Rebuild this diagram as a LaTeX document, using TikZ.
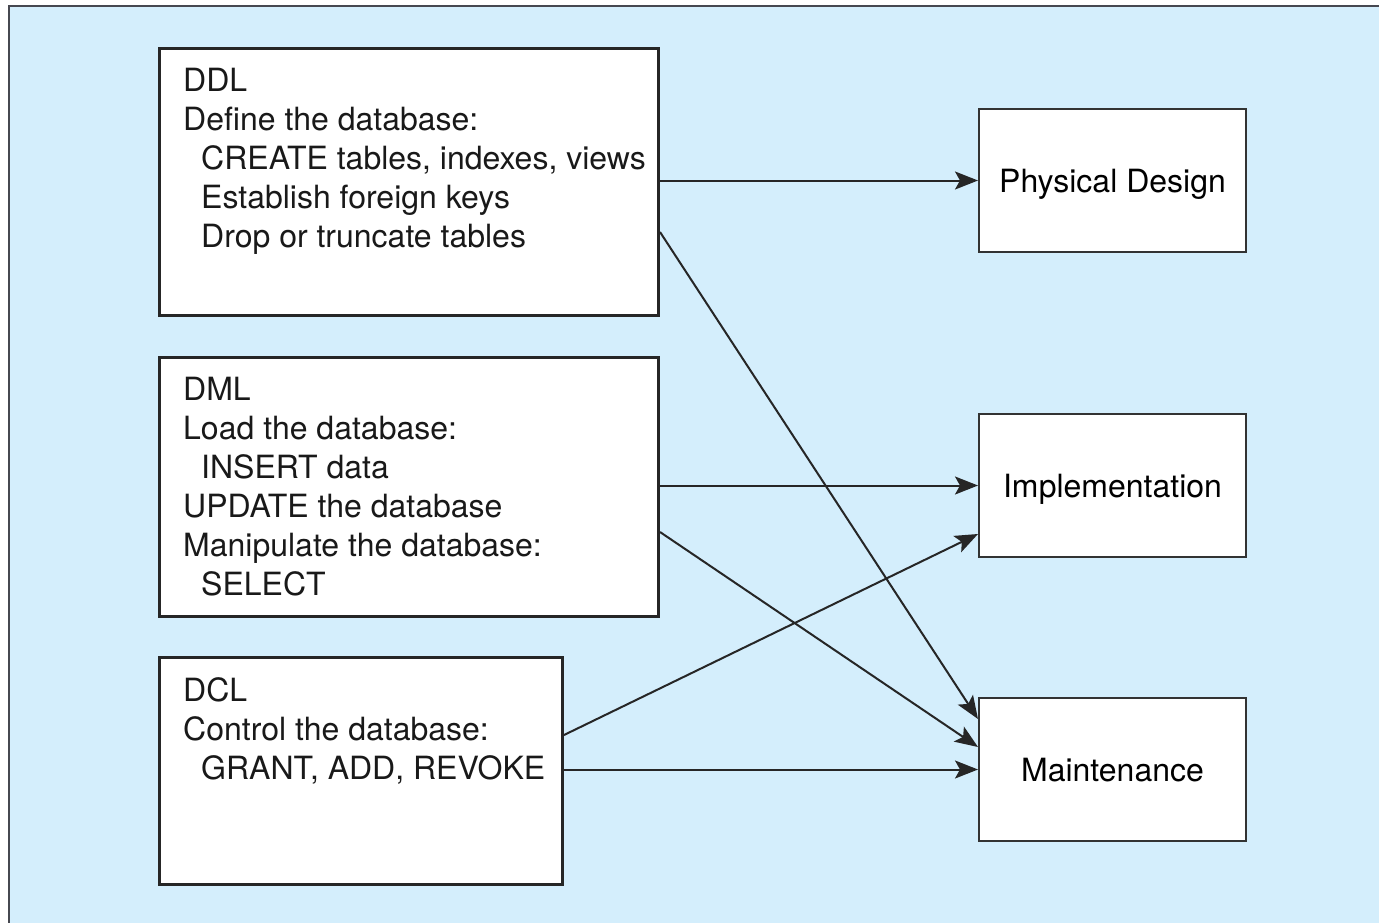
\documentclass[tikz,border=0pt]{standalone}
\usepackage{fontspec}
\setmainfont{TeX Gyre Heros}
\usepackage{xcolor}
\usepackage{tikz}
\usetikzlibrary{arrows.meta,positioning,calc}
\definecolor{bgblue}{RGB}{212,238,252}
\definecolor{framegray}{RGB}{70,72,80}

\begin{document}
\begin{tikzpicture}[
    x=1pt, y=-1pt,
    font=\fontsize{32}{39}\selectfont,
    lang/.style={rectangle, draw=black!85, fill=white, line width=3pt, anchor=north west, inner sep=0pt},
    phase/.style={rectangle, draw=black!80, fill=white, line width=2pt, minimum width=267pt, minimum height=143pt, align=center, text height=23pt, text depth=0pt},
    txt/.style={anchor=north west, align=left, inner sep=0pt, text=black!90},
    arr/.style={-{Stealth[length=23pt, width=18pt, inset=5pt]}, line width=2pt, draw=black!85}
]
    \useasboundingbox (0,0) rectangle (1379,922);
    \clip (0,0) rectangle (1379,922);
    \filldraw [fill=bgblue, draw=framegray, line width=2pt] (9,6) rectangle (1400,940);

    \node [lang, minimum width=499pt, minimum height=267pt] (ddl) at (158,47) {};
    \node [lang, minimum width=499pt, minimum height=259pt] (dml) at (158,356) {};
    \node [lang, minimum width=403pt, minimum height=227pt] (dcl) at (158,656) {};

    \node [txt] (ddltext) at ([xshift=25pt, yshift=-21pt]ddl.north west)
        {DDL\\Define the database:\\\hspace*{18pt}CREATE tables, indexes, views\\\hspace*{18pt}Establish foreign keys\\\hspace*{18pt}Drop or truncate tables};
    \node [txt] (dmltext) at ([xshift=25pt, yshift=-21pt]dml.north west)
        {DML\\Load the database:\\\hspace*{18pt}INSERT data\\UPDATE the database\\Manipulate the database:\\\hspace*{18pt}SELECT};
    \node [txt] (dcltext) at ([xshift=25pt, yshift=-21pt]dcl.north west)
        {DCL\\Control the database:\\\hspace*{18pt}GRANT, ADD, REVOKE};

    \node [phase] (pd) at (1112.5,180.5) {Physical Design};
    \node [phase] (impl) at (1112.5,485.5) {Implementation};
    \node [phase] (maint) at (1112.5,769.5) {Maintenance};

    \draw [arr] (ddl.east |- pd) -- (pd.west);
    \draw [arr] ([yshift=-185pt]ddl.north east) -- ([yshift=-22pt]maint.north west);
    \draw [arr] (dml.east |- impl) -- (impl.west);
    \draw [arr] ([yshift=-176pt]dml.north east) -- ([yshift=-50pt]maint.north west);
    \draw [arr] ([yshift=-79pt]dcl.north east) -- ([yshift=24pt]impl.south west);
    \draw [arr] (dcl.east |- maint) -- (maint.west);
\end{tikzpicture}
\end{document}
